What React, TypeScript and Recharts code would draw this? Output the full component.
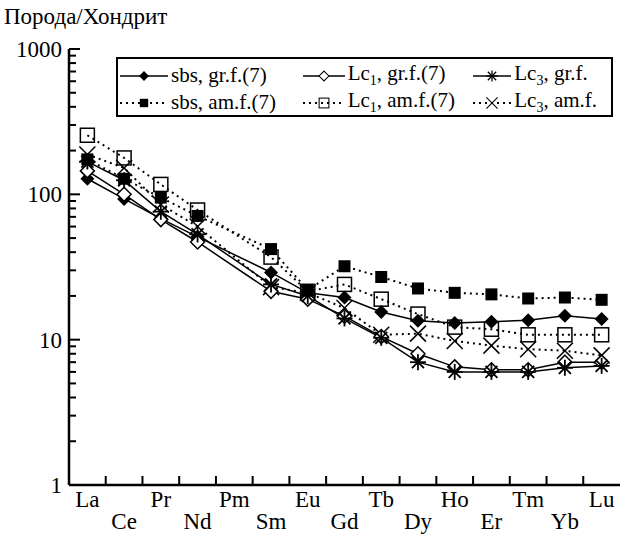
import React from 'react';
import { LineChart, Line, XAxis, YAxis, Legend } from 'recharts';

const elements = ['La', 'Ce', 'Pr', 'Nd', 'Pm', 'Sm', 'Eu', 'Gd', 'Tb', 'Dy', 'Ho', 'Er', 'Tm', 'Yb', 'Lu'];

// chondrite-normalised values, Pm not measured
const sbsGr = [128, 93, 68, 51, null, 29, 21, 19.5, 15.5, 13.5, 13, 13.3, 13.6, 14.6, 13.9];
const lc1Gr = [145, 100, 67, 47, null, 21.5, 19, 14.5, 10.5, 8, 6.5, 6.2, 6.2, 7, 7];
const lc3Gr = [168, 125, 76, 53, null, 24, 20, 14, 10.3, 7, 6, 6, 6, 6.4, 6.6];
const sbsAm = [174, 128, 95, 71, null, 42, 22, 32, 27, 22.5, 21, 20.5, 19.2, 19.5, 18.8];
const lc1Am = [255, 178, 117, 78, null, 37, 21.5, 24, 19, 15, 12.2, 11.8, 10.8, 10.8, 10.8];
const lc3Am = [188, 152, 85, 60, null, 23, 21, 16.5, 10.8, 11, 9.8, 9.1, 8.6, 8.4, 7.8];

const decades = [1, 10, 100, 1000];
const yTicks = [1, 2, 3, 4, 5, 6, 7, 8, 9, 10, 20, 30, 40, 50, 60, 70, 80, 90, 100, 200, 300, 400, 500, 600, 700, 800, 900, 1000];

const data = elements.map((el, i) => ({
  el,
  sbsGr: sbsGr[i],
  lc1Gr: lc1Gr[i],
  lc3Gr: lc3Gr[i],
  sbsAm: sbsAm[i],
  lc1Am: lc1Am[i],
  lc3Am: lc3Am[i],
}));

const W = 620;
const H = 536;
const AX = 69;
const AY = 485;
const STEP = (W - AX) / elements.length;
const FONT = '"Liberation Serif", "Times New Roman", serif';

const FilledDiamond = ({ cx, cy }: any) => (
  <polygon points={`${cx},${cy - 7} ${cx + 7},${cy} ${cx},${cy + 7} ${cx - 7},${cy}`} fill="#000" />
);
const OpenDiamond = ({ cx, cy }: any) => (
  <polygon points={`${cx},${cy - 7} ${cx + 7},${cy} ${cx},${cy + 7} ${cx - 7},${cy}`} fill="#fff" stroke="#000" strokeWidth={1.5} />
);
const Asterisk = ({ cx, cy }: any) => (
  <g stroke="#000" strokeWidth={1.8}>
    <line x1={cx} y1={cy - 8} x2={cx} y2={cy + 8} />
    <line x1={cx - 8} y1={cy} x2={cx + 8} y2={cy} />
    <line x1={cx - 6} y1={cy - 6} x2={cx + 6} y2={cy + 6} />
    <line x1={cx - 6} y1={cy + 6} x2={cx + 6} y2={cy - 6} />
  </g>
);
const FilledSquare = ({ cx, cy }: any) => <rect x={cx - 6} y={cy - 6} width={12} height={12} fill="#000" />;
const OpenSquare = ({ cx, cy }: any) => (
  <rect x={cx - 7} y={cy - 7} width={14} height={14} fill="none" stroke="#000" strokeWidth={1.5} />
);
const Cross = ({ cx, cy }: any) => (
  <g stroke="#000" strokeWidth={1.5}>
    <line x1={cx - 8} y1={cy - 8} x2={cx + 8} y2={cy + 8} />
    <line x1={cx - 8} y1={cy + 8} x2={cx + 8} y2={cy - 8} />
  </g>
);

const makeDot = (Shape: any, name: string) => (props: any) => {
  const { cx, cy, index, value } = props;
  if (value == null || cx == null || cy == null || isNaN(cy)) return <g key={`${name}-${index}`} />;
  return <Shape key={`${name}-${index}`} cx={cx} cy={cy} />;
};

const series = [
  { key: 'sbsAm', label: 'sbs, am.f.(7)', sub: '', shape: FilledSquare, dotted: true },
  { key: 'lc1Am', label: 'Lc', sub: '1', rest: ', am.f.(7)', shape: OpenSquare, dotted: true },
  { key: 'lc3Am', label: 'Lc', sub: '3', rest: ', am.f.', shape: Cross, dotted: true },
  { key: 'sbsGr', label: 'sbs, gr.f.(7)', sub: '', shape: FilledDiamond, dotted: false },
  { key: 'lc1Gr', label: 'Lc', sub: '1', rest: ', gr.f.(7)', shape: OpenDiamond, dotted: false },
  { key: 'lc3Gr', label: 'Lc', sub: '3', rest: ', gr.f.', shape: Asterisk, dotted: false },
];

const legendRows = [
  ['sbsGr', 'lc1Gr', 'lc3Gr'],
  ['sbsAm', 'lc1Am', 'lc3Am'],
];
const colW = [183, 171, 138];
const iconW = [48, 42, 38];

const YTick = ({ y, payload }: any) => {
  const v = payload.value;
  const major = decades.includes(v);
  return (
    <g>
      <line x1={AX} x2={AX + (major ? 11 : 7)} y1={y} y2={y} stroke="#000" strokeWidth={2} />
      {major && (
        <text x={62} y={y + 8} textAnchor="end" fontSize={23} fontFamily={FONT} fill="#000">
          {v}
        </text>
      )}
    </g>
  );
};

const XTick = ({ x, payload, index }: any) => (
  <g>
    {index < elements.length - 1 && (
      <line x1={x + STEP / 2} x2={x + STEP / 2} y1={AY} y2={AY - 9} stroke="#000" strokeWidth={2} />
    )}
    <text x={x} y={index % 2 === 0 ? AY + 22 : AY + 44} textAnchor="middle" fontSize={23} fontFamily={FONT} fill="#000">
      {payload.value}
    </text>
  </g>
);

const LegendBox = () => (
  <div
    style={{
      border: '2px solid #000',
      boxSizing: 'border-box',
      width: 497,
      height: 60,
      padding: '3px 0 0 2px',
      fontFamily: FONT,
      fontSize: 21,
      background: '#fff',
    }}
  >
    {legendRows.map((row, r) => (
      <div key={r} style={{ display: 'flex', height: 27, alignItems: 'center' }}>
        {row.map((k, c) => {
          const s: any = series.find((q) => q.key === k);
          const Shape = s.shape;
          const w = iconW[c];
          return (
            <div key={k} style={{ display: 'flex', alignItems: 'center', width: colW[c] }}>
              <svg width={w} height={20} style={{ marginRight: 3 }}>
                <line
                  x1={0}
                  x2={w}
                  y1={10}
                  y2={10}
                  stroke="#000"
                  strokeWidth={s.dotted ? 2 : 1.5}
                  strokeDasharray={s.dotted ? '2 4' : undefined}
                />
                <g transform={`translate(${w / 2} 10) scale(0.7) translate(${-w / 2} -10)`}>
                  <Shape cx={w / 2} cy={10} />
                </g>
              </svg>
              <span style={{ whiteSpace: 'nowrap' }}>
                {s.label}
                {s.sub && <sub style={{ fontSize: 14 }}>{s.sub}</sub>}
                {s.rest}
              </span>
            </div>
          );
        })}
      </div>
    ))}
  </div>
);

export default function App() {
  return (
    <div style={{ position: 'absolute', left: 0, top: 0, width: W, height: H, background: '#fff', fontFamily: FONT }}>
      <div style={{ position: 'absolute', left: 4, top: 4, fontSize: 23, color: '#000', lineHeight: '26px' }}>
        Порода/Хондрит
      </div>
      <LineChart width={W} height={H} data={data} margin={{ top: 49, right: 0, left: 0, bottom: 0 }}>
        <XAxis
          dataKey="el"
          height={H - AY}
          padding={{ left: STEP / 2, right: STEP / 2 }}
          axisLine={{ stroke: '#000', strokeWidth: 2.5 }}
          tickLine={false}
          interval={0}
          tick={<XTick />}
        />
        <YAxis
          type="number"
          scale="log"
          domain={[1, 1000]}
          ticks={yTicks}
          interval={0}
          width={AX}
          allowDataOverflow
          axisLine={{ stroke: '#000', strokeWidth: 2.5 }}
          tickLine={false}
          tick={<YTick />}
        />
        <Legend
          layout="horizontal"
          verticalAlign="middle"
          align="center"
          wrapperStyle={{ left: 116, top: 57, width: 497, height: 60 }}
          content={<LegendBox />}
        />
        {series.map((s) => (
          <Line
            key={s.key}
            dataKey={s.key}
            type="linear"
            stroke="#000"
            strokeWidth={s.dotted ? 2 : 1.5}
            strokeDasharray={s.dotted ? '2 4' : undefined}
            connectNulls
            dot={makeDot(s.shape, s.key)}
            activeDot={false}
            isAnimationActive={false}
          />
        ))}
      </LineChart>
    </div>
  );
}
